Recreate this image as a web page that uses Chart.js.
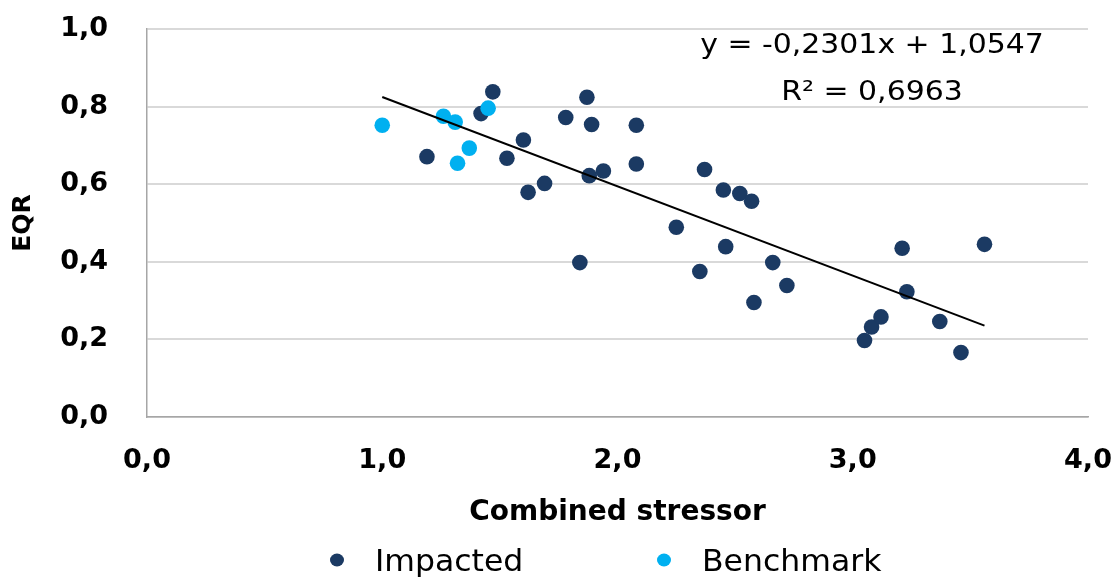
<!DOCTYPE html>
<html>
<head>
<meta charset="utf-8">
<title>EQR vs combined stressor</title>
<script src="https://cdn.jsdelivr.net/npm/chart.js@4.4.0/dist/chart.umd.min.js"></script>
<style>
  html, body { margin: 0; padding: 0; background: #fff; }
  #wrap { width: 1120px; height: 577px; }
</style>
</head>
<body>
<div id="wrap"><canvas id="stressorChart" width="1120" height="577"></canvas></div>
<script>
// Sites under pressure
const impactedX = [1.19, 1.42, 1.47, 1.53, 1.60, 1.62, 1.69, 1.78, 1.84, 1.87, 1.88, 1.89, 1.94, 2.08, 2.08,
                   2.25, 2.35, 2.37, 2.45, 2.46, 2.52, 2.57, 2.58, 2.66, 2.72, 3.05, 3.08, 3.12, 3.21, 3.23,
                   3.37, 3.46, 3.56];
const impactedY = [0.671, 0.782, 0.838, 0.667, 0.714, 0.579, 0.602, 0.772, 0.398, 0.824, 0.622, 0.754, 0.634, 0.752, 0.652,
                   0.489, 0.375, 0.638, 0.585, 0.439, 0.576, 0.556, 0.295, 0.398, 0.339, 0.197, 0.232, 0.258, 0.435, 0.323,
                   0.246, 0.166, 0.445];

// Reference sites
const benchmarkX = [1.00, 1.26, 1.31, 1.32, 1.37, 1.45];
const benchmarkY = [0.752, 0.775, 0.760, 0.654, 0.693, 0.796];

const xTicks = [0, 1, 2, 3, 4];
const yTicks = [0, 0.2, 0.4, 0.6, 0.8, 1.0];

// Linear fit over all sites
const trendSlope = -0.2301;
const trendIntercept = 1.0547;
const trendR2 = 0.6963;

const NAVY = '#1b3a63';
const CYAN = '#00b0f0';
const GRID = '#d9d9d9';
const AXIS = '#a6a6a6';

const fmt = (v, d) => v.toFixed(d).replace('.', ',');

function toPoints(xs, ys) {
    return xs.map((x, i) => ({ x: x, y: ys[i] }));
}

const allX = impactedX.concat(benchmarkX);
const xMin = Math.min(...allX);
const xMax = Math.max(...allX);
const trendPoints = [xMin, xMax].map(x => ({ x: x, y: trendSlope * x + trendIntercept }));

function drawStretched(ctx, text, x, baseline, sx, align) {
    ctx.save();
    ctx.scale(sx, 1);
    ctx.textAlign = align;
    ctx.textBaseline = 'alphabetic';
    ctx.fillText(text, x / sx, baseline);
    ctx.restore();
}

// Equation of the fit, top right of the plot
const equationLabel = {
    id: 'equationLabel',
    afterDraw(chart) {
        const { ctx, chartArea } = chart;
        ctx.save();
        ctx.fillStyle = '#000';
        ctx.font = '26px "DejaVu Sans"';
        const sign = trendIntercept >= 0 ? ' + ' : ' - ';
        const eq = 'y = ' + fmt(trendSlope, 4) + 'x' + sign + fmt(Math.abs(trendIntercept), 4);
        const cx = chartArea.right - 216;
        drawStretched(ctx, eq, cx, chartArea.top + 24, 1.15, 'center');
        drawStretched(ctx, 'R\u00b2 = ' + fmt(trendR2, 4), cx, chartArea.top + 71, 1.15, 'center');
        ctx.restore();
    }
};

// Legend under the axis title
const bottomLegend = {
    id: 'bottomLegend',
    afterDraw(chart) {
        const { ctx } = chart;
        const items = chart.data.datasets.filter(d => d.inLegend);
        const slots = [337, 664];
        const cy = 560;
        ctx.save();
        ctx.font = '30px "DejaVu Sans"';
        items.forEach((d, i) => {
            ctx.fillStyle = d.backgroundColor;
            ctx.beginPath();
            ctx.ellipse(slots[i], cy, 7, 6.5, 0, 0, Math.PI * 2);
            ctx.fill();
            ctx.fillStyle = '#000';
            drawStretched(ctx, d.label, slots[i] + 38, cy + 11, 1.05, 'left');
        });
        ctx.restore();
    }
};

const ctx = document.getElementById('stressorChart').getContext('2d');

const stressorChart = new Chart(ctx, {
    type: 'scatter',
    data: {
        datasets: [
            {
                label: 'Impacted',
                data: toPoints(impactedX, impactedY),
                backgroundColor: NAVY,
                borderWidth: 0,
                pointStyle: 'circle',
                pointRadius: 7.8,
                inLegend: true,
                order: 2
            },
            {
                label: 'Benchmark',
                data: toPoints(benchmarkX, benchmarkY),
                backgroundColor: CYAN,
                borderWidth: 0,
                pointStyle: 'circle',
                pointRadius: 7.8,
                inLegend: true,
                order: 1
            },
            {
                type: 'line',
                label: 'Linear (all)',
                data: trendPoints,
                borderColor: '#000',
                borderWidth: 2,
                pointRadius: 0,
                fill: false,
                order: 0
            }
        ]
    },
    options: {
        responsive: false,
        animation: false,
        events: [],
        layout: {
            padding: { top: 29, right: 32, bottom: 47, left: 0 }
        },
        scales: {
            x: {
                type: 'linear',
                min: xTicks[0],
                max: xTicks[xTicks.length - 1],
                afterBuildTicks: s => { s.ticks = xTicks.map(v => ({ value: v })); },
                afterFit: s => {
                    s.height = 113;
                    s.paddingLeft = 0;
                    s.paddingRight = 0;
                },
                grid: { display: false, drawTicks: false },
                border: { display: true, color: AXIS, width: 1.5 },
                ticks: {
                    padding: 28,
                    color: '#000',
                    font: { family: 'DejaVu Sans', size: 27, weight: 'bold' },
                    callback: v => fmt(v, 1)
                },
                title: {
                    display: true,
                    text: 'Combined stressor',
                    color: '#000',
                    padding: 0,
                    font: { family: 'DejaVu Sans', size: 28, weight: 'bold' }
                }
            },
            y: {
                min: yTicks[0],
                max: yTicks[yTicks.length - 1],
                afterBuildTicks: s => { s.ticks = yTicks.map(v => ({ value: v })); },
                afterFit: s => {
                    s.width = 147;
                    s.paddingTop = 0;
                    s.paddingBottom = 0;
                },
                grid: { color: GRID, lineWidth: 2, drawTicks: false },
                border: { display: true, color: AXIS, width: 1.5 },
                ticks: {
                    padding: 39,
                    color: '#000',
                    font: { family: 'DejaVu Sans', size: 27, weight: 'bold' },
                    callback: v => fmt(v, 1)
                },
                title: {
                    display: true,
                    text: 'EQR',
                    color: '#000',
                    padding: 8,
                    font: { family: 'DejaVu Sans', size: 25, weight: 'bold' }
                }
            }
        },
        plugins: {
            legend: { display: false },
            tooltip: { enabled: false }
        }
    },
    plugins: [equationLabel, bottomLegend]
});
</script>
</body>
</html>
